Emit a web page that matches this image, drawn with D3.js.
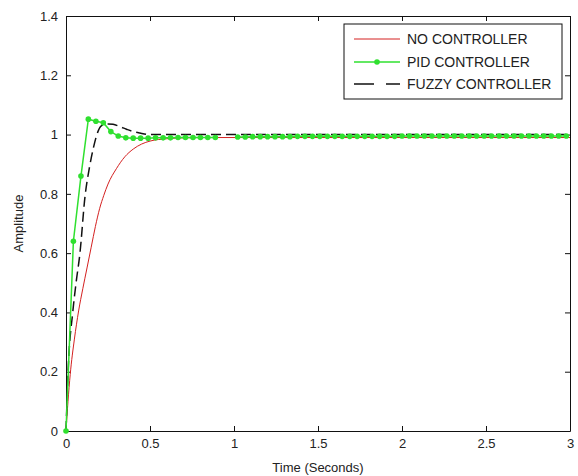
<!DOCTYPE html>
<html>
<head>
<meta charset="utf-8">
<script src="https://cdn.jsdelivr.net/npm/d3@7"></script>
<style>
  body { margin: 0; background: #fff; }
  svg text { font-family: "Liberation Sans", Arial, sans-serif; fill: #222; }
</style>
</head>
<body>
<div id="chart"></div>
<script>
// step response data
const noCtrlTime = [0, 0.012, 0.025, 0.05, 0.075, 0.1, 0.125, 0.15, 0.175, 0.2, 0.225, 0.25, 0.3, 0.35, 0.4, 0.45, 0.5, 0.6, 0.7, 0.8, 1, 1.5, 2, 2.5, 3];
const noCtrlAmp  = [0, 0.1, 0.19, 0.31, 0.405, 0.48, 0.55, 0.62, 0.69, 0.75, 0.795, 0.833, 0.885, 0.925, 0.951, 0.968, 0.978, 0.986, 0.989, 0.99, 0.99, 0.99, 0.99, 0.99, 0.99];

const fuzzyTime = [0, 0.014, 0.04, 0.06, 0.083, 0.113, 0.14, 0.163, 0.19, 0.212, 0.25, 0.28, 0.32, 0.36, 0.4, 0.44, 0.5, 0.6, 1, 1.5, 2, 2.5, 3];
const fuzzyAmp  = [0, 0.22, 0.4, 0.5, 0.6, 0.79, 0.89, 0.955, 1.01, 1.03, 1.036, 1.035, 1.027, 1.018, 1.01, 1.005, 1.0, 1.0, 1.0, 1.0, 1.0, 1.0, 1.0];

const pidTime = [0, 0.044, 0.089, 0.133, 0.178, 0.222, 0.267, 0.311, 0.356, 0.4, 0.444, 0.489, 0.533, 0.578, 0.622, 0.667, 0.711, 0.756, 0.8, 0.844, 0.889,
  0.933, 0.978,
  1.022, 1.067, 1.111, 1.156, 1.2, 1.244, 1.289, 1.333, 1.378, 1.422, 1.467, 1.511, 1.556, 1.6, 1.644, 1.689, 1.733, 1.778, 1.822, 1.867, 1.911, 1.956,
  2.0, 2.044, 2.089, 2.133, 2.178, 2.222, 2.267, 2.311, 2.356, 2.4, 2.444, 2.489, 2.533, 2.578, 2.622, 2.667, 2.711, 2.756, 2.8, 2.844, 2.889, 2.933, 2.978];
const pidAmp = [0, 0.64, 0.86, 1.052, 1.045, 1.04, 1.01, 0.995, 0.989, 0.988, 0.988, 0.988, 0.989, 0.989, 0.989, 0.99, 0.99, 0.99, 0.99, 0.99, 0.99,
  null, null,
  0.992, 0.992, 0.993, 0.993, 0.993, 0.993, 0.993, 0.993, 0.994, 0.994, 0.994, 0.994, 0.994, 0.994, 0.994, 0.994, 0.994, 0.994, 0.994, 0.994, 0.994, 0.994,
  0.995, 0.995, 0.995, 0.995, 0.995, 0.995, 0.995, 0.995, 0.995, 0.995, 0.995, 0.995, 0.995, 0.995, 0.995, 0.995, 0.995, 0.995, 0.995, 0.995, 0.995, 0.995, 0.995];

const xTicks = [0, 0.5, 1, 1.5, 2, 2.5, 3];
const yTicks = [0, 0.2, 0.4, 0.6, 0.8, 1, 1.2, 1.4];
const legendNames = ["NO CONTROLLER", "PID CONTROLLER", "FUZZY CONTROLLER"];

const W = 578, H = 476;
const margin = { top: 16, right: 8, bottom: 45, left: 66 };
const width = W - margin.left - margin.right;
const height = H - margin.top - margin.bottom;

const svg = d3.select("#chart").append("svg")
    .attr("width", W)
    .attr("height", H);
svg.append("rect").attr("width", W).attr("height", H).attr("fill", "#fff");

const g = svg.append("g")
    .attr("transform", `translate(${margin.left},${margin.top})`);

const x = d3.scaleLinear().domain([0, 3]).range([0, width]);
const y = d3.scaleLinear().domain([0, 1.4]).range([height, 0]);

// axes (inward ticks, MATLAB style box)
const fmt = d => d3.format("~g")(d);
const styleAxis = sel => {
    sel.select(".domain").attr("stroke", "#111");
    sel.selectAll(".tick line").attr("stroke", "#111");
    sel.selectAll(".tick text").style("font-size", "13px").attr("fill", "#222");
};

g.append("g")
    .attr("transform", `translate(0,${height})`)
    .call(d3.axisBottom(x).tickValues(xTicks).tickFormat(fmt).tickSizeInner(-5).tickSizeOuter(0).tickPadding(8))
    .call(styleAxis);
g.append("g")
    .call(d3.axisLeft(y).tickValues(yTicks).tickFormat(fmt).tickSizeInner(-5).tickSizeOuter(0).tickPadding(8))
    .call(styleAxis);
g.append("g")
    .call(d3.axisTop(x).tickValues(xTicks).tickFormat("").tickSizeInner(-5).tickSizeOuter(0))
    .call(styleAxis);
g.append("g")
    .attr("transform", `translate(${width},0)`)
    .call(d3.axisRight(y).tickValues(yTicks).tickFormat("").tickSizeInner(-5).tickSizeOuter(0))
    .call(styleAxis);

// axis labels
svg.append("text")
    .attr("x", margin.left + width / 2)
    .attr("y", H - 4)
    .attr("text-anchor", "middle")
    .style("font-size", "13px")
    .text("Time (Seconds)");
svg.append("text")
    .attr("transform", `translate(23,${margin.top + height / 2}) rotate(-90)`)
    .attr("text-anchor", "middle")
    .style("font-size", "13px")
    .text("Amplitude");

const line = d3.line()
    .defined(d => d[1] !== null)
    .x(d => x(d[0]))
    .y(d => y(d[1]));
const smooth = d3.line()
    .curve(d3.curveMonotoneX)
    .x(d => x(d[0]))
    .y(d => y(d[1]));

const zip = (a, b) => a.map((t, i) => [t, b[i]]);

const redColor = "#d42020", greenColor = "#2fe02f", blackColor = "#111";

g.append("path")
    .datum(zip(noCtrlTime, noCtrlAmp))
    .attr("fill", "none")
    .attr("stroke", redColor)
    .attr("stroke-width", 1)
    .attr("d", smooth);

g.append("path")
    .datum(zip(fuzzyTime, fuzzyAmp))
    .attr("fill", "none")
    .attr("stroke", blackColor)
    .attr("stroke-width", 1.5)
    .attr("stroke-dasharray", "10,5")
    .attr("d", smooth);

const pidData = zip(pidTime, pidAmp);
g.append("path")
    .datum(pidData)
    .attr("fill", "none")
    .attr("stroke", greenColor)
    .attr("stroke-width", 1.5)
    .attr("d", line);

g.selectAll(".pid-dot")
    .data(pidData.filter(d => d[1] !== null))
    .enter()
    .append("circle")
    .attr("class", "pid-dot")
    .attr("cx", d => x(d[0]))
    .attr("cy", d => y(d[1]))
    .attr("r", 2.8)
    .attr("fill", greenColor);

// legend
const legend = svg.append("g").attr("transform", "translate(344,24)");
legend.append("rect")
    .attr("width", 218).attr("height", 75)
    .attr("fill", "#fff").attr("stroke", "#111").attr("stroke-width", 1);

const rowY = [15, 38, 60];
legendNames.forEach((name, i) => {
    const row = legend.append("g").attr("transform", `translate(0,${rowY[i]})`);
    const ln = row.append("line")
        .attr("x1", 10).attr("x2", 56).attr("y1", 0).attr("y2", 0);
    if (i === 0) ln.attr("stroke", redColor).attr("stroke-width", 1);
    if (i === 1) {
        ln.attr("stroke", greenColor).attr("stroke-width", 1.5);
        row.append("circle").attr("cx", 33).attr("cy", 0).attr("r", 2.8).attr("fill", greenColor);
    }
    if (i === 2) ln.attr("stroke", blackColor).attr("stroke-width", 1.5).attr("stroke-dasharray", "20,12");
    row.append("text")
        .attr("x", 63).attr("y", 5)
        .style("font-size", "14px")
        .text(name);
});
</script>
</body>
</html>
